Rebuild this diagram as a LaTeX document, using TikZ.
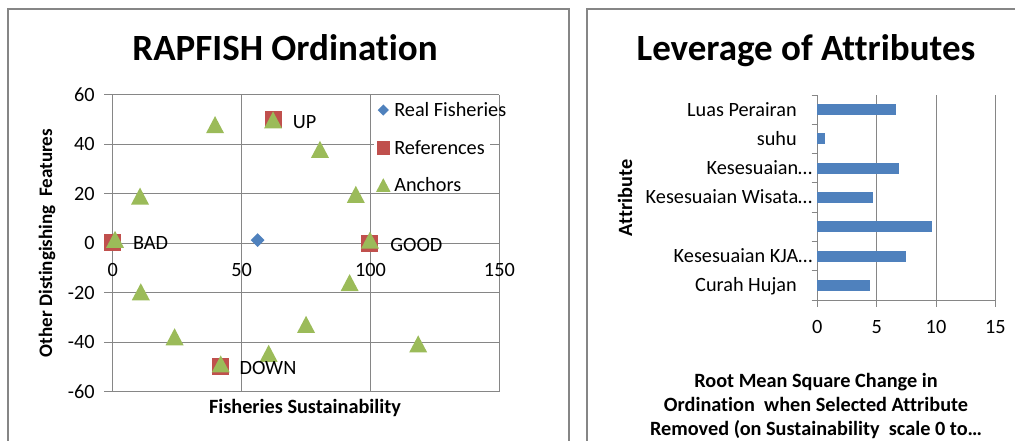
\documentclass[tikz,border=0pt]{standalone}
\usepackage{fontspec}
\setmainfont{Carlito}[Ligatures=CommonOff]
\usetikzlibrary{shapes.geometric}
\definecolor{gridgray}{HTML}{868686}
\definecolor{fishblue}{HTML}{4F81BD}
\definecolor{refred}{HTML}{C0504D}
\definecolor{anchgreen}{HTML}{9BBB59}
\tikzset{
  gridline/.style={gridgray, line width=0.75pt},
  ticklabel/.style={font=\fontsize{15.2}{18}\selectfont, inner sep=0pt},
  axistitle/.style={font=\bfseries\fontsize{15.2}{18}\selectfont, inner sep=0pt},
  charttitle/.style={font=\bfseries\fontsize{27.75}{32}\selectfont, inner sep=0pt, anchor=base},
  refmark/.style={rectangle, fill=refred, minimum size=12.75pt, inner sep=0pt},
  realmark/.style={diamond, fill=fishblue, minimum size=10.5pt, inner sep=0pt},
  tri/.pic={\fill[anchgreen] (-6.75pt,-6.4pt) -- (6.75pt,-6.4pt) -- (0pt,6.4pt) -- cycle;},
  barbox/.style={fill=fishblue}
}
\begin{document}
\begin{tikzpicture}[x=0.75pt, y=-0.75pt]
	\useasboundingbox (0,0) rectangle (1015,440);
	\fill[white] (0,0) rectangle (1015,440);
	% panels
	\draw[gridgray, line width=1.1pt] (8,9) rectangle (569,460);
	\draw[gridgray, line width=1.1pt] (587,9) rectangle (1040,460);

	% ordination
	\node[charttitle] (ordtitle) at (285,60) {RAPFISH Ordination};
	\begin{scope}[shift={(112.7,243.3)}, x=1.9335pt, y=1.854pt]
		\foreach \v in {-60,-40,...,60} {
			\draw[gridline] (-3.3,\v) -- (150,\v);
			\node[ticklabel, anchor=east] (ylab\v) at (-6.9,\v) {\v};
		}
		\foreach \u in {0,50,100,150} {
			\draw[gridline] (\u,-60) -- (\u,60);
			\node[ticklabel] (xlab\u) at (\u,-10.8) {\u};
		}
		\fill[white] (101.5,58.5) rectangle (146.5,20.5);
		\node[refmark] (bad) at (0,0.2) {};
		\node[refmark] (up) at (62.2,49.9) {};
		\node[refmark] (good) at (99.8,0) {};
		\node[refmark] (down) at (41.9,-49.9) {};
		\foreach \a/\b [count=\i] in {0.9/1.6, 10.6/19.1, 39.7/48.0, 62.2/49.9, 80.4/38.0, 94.3/19.8, 99.8/1.3,
			91.9/-15.9, 75.0/-32.8, 118.5/-40.7, 60.5/-44.5, 41.9/-48.8, 24.0/-37.8, 10.9/-19.6}
			\pic (anch\i) at (\a,\b) {tri};
		\node[realmark] (real) at (56.2,1.3) {};
		\node[ticklabel, anchor=west] (uplab) at (69.8,49.2) {UP};
		\node[ticklabel, anchor=west] (badlab) at (7.8,0.2) {BAD};
		\node[ticklabel, anchor=west] (goodlab) at (107.6,-0.7) {GOOD};
		\node[ticklabel, anchor=west] (downlab) at (49.1,-50.6) {DOWN};
	\end{scope}
	% legend
	\node[realmark, minimum size=8.5pt] (legreal) at (383.3,110) {};
	\node[refmark, minimum size=10pt] (legref) at (383.3,148) {};
	\pic[scale=0.8] (legtri) at (383.3,185) {tri};
	\node[ticklabel, anchor=west] (legreallab) at (394,110) {Real Fisheries};
	\node[ticklabel, anchor=west] (legreflab) at (394,148) {References};
	\node[ticklabel, anchor=west] (legtrilab) at (394,185) {Anchors};
	\node[axistitle, font=\bfseries\fontsize{14.3}{17}\selectfont, rotate=90] (ytitle) at (47,243) {Other Distingishing~ Features};
	\node[axistitle] (xtitle) at (305,408) {Fisheries Sustainability};

	% leverage
	\node[charttitle] (levtitle) at (806,60) {Leverage of Attributes};
	\begin{scope}[shift={(817.3,0)}, x=8.9025pt]
		\foreach \u in {0,5,10,15}
			\node[ticklabel] (vlab\u) at (\u,327) {\u};
		\foreach \u in {5,10,15}
			\draw[gridline] (\u,95) -- (\u,306.5);
		\draw[gridline] (0,95) -- (0,306.5);
		\draw[gridline] (-0.47,300) -- (15,300);
		\foreach \k in {0,...,6}
			\draw[gridline] (-0.47,95+29.29*\k) -- (0,95+29.29*\k);
		\foreach \w [count=\k from 0] in {6.6,0.65,6.9,4.7,9.63,7.5,4.4}
			\fill[barbox] (0,104.1+29.29*\k) rectangle (\w,115.1+29.29*\k);
	\end{scope}
	\node[ticklabel, anchor=base east] (attr1) at (797,116) {Luas Perairan};
	\node[ticklabel, anchor=base east] (attr2) at (797,145.3) {suhu};
	\node[ticklabel, anchor=base east] (attr3) at (812.5,174.6) {Kesesuaian…};
	\node[ticklabel, anchor=base east] (attr4) at (812.5,203.9) {Kesesuaian Wisata…};
	\node[ticklabel, anchor=base east] (attr6) at (812.5,262.5) {Kesesuaian KJA…};
	\node[ticklabel, anchor=base east] (attr7) at (797,291.8) {Curah Hujan};
	\node[axistitle, rotate=90] (attrtitle) at (625,198) {Attribute};
	\node[axistitle, anchor=base] (rms1) at (816,387) {Root Mean Square Change in};
	\node[axistitle, anchor=base] (rms2) at (816,411.5) {Ordination~ when Selected Attribute};
	\node[axistitle, anchor=base] (rms3) at (816,435.5) {Removed (on Sustainability~ scale 0 to…};
\end{tikzpicture}
\end{document}
